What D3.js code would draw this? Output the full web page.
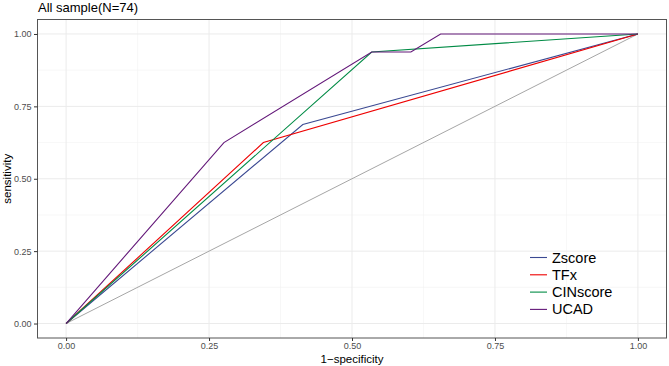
<!DOCTYPE html>
<html>
<head>
<meta charset="utf-8">
<script src="https://cdn.jsdelivr.net/npm/d3@7"></script>
<style>
  body { margin: 0; background: #fff; }
  svg text { font-family: "Liberation Sans", Arial, sans-serif; }
</style>
</head>
<body>
<script>
const width = 669;
const height = 366;

// ROC curve points
const models = ["Zscore", "TFx", "CINscore", "UCAD"];
const colors = ["#3B4992", "#EE0000", "#008B45", "#631879"];
const zscoreFpr = [0, 0.414, 1];
const zscoreTpr = [0, 0.6875, 1];
const tfxFpr = [0, 0.345, 1];
const tfxTpr = [0, 0.625, 1];
const cinFpr = [0, 0.5345, 1];
const cinTpr = [0, 0.9375, 1];
const ucadFpr = [0, 0.276, 0.5345, 0.603, 0.655, 1];
const ucadTpr = [0, 0.625, 0.9375, 0.9375, 1, 1];
const diagFpr = [0, 1];
const diagTpr = [0, 1];
const ticks = [0, 0.25, 0.5, 0.75, 1];
const minorTicks = [0.125, 0.375, 0.625, 0.875];

const panel = {left: 37.5, right: 666.5, top: 19.5, bottom: 338};

const series = [
  {fpr: zscoreFpr, tpr: zscoreTpr},
  {fpr: tfxFpr, tpr: tfxTpr},
  {fpr: cinFpr, tpr: cinTpr},
  {fpr: ucadFpr, tpr: ucadTpr}
].map((s, i) => ({name: models[i], color: colors[i], pts: s.fpr.map((f, j) => [f, s.tpr[j]])}));

const svg = d3.select('body')
              .append('svg')
              .attr('width', width)
              .attr('height', height);

let xScale = d3.scaleLinear()
               .domain([-0.05, 1.05])
               .range([panel.left, panel.right]);

let yScale = d3.scaleLinear()
               .domain([-0.05, 1.05])
               .range([panel.bottom, panel.top]);

// grid
let grid = svg.append('g');
grid.selectAll('.vminor').data(minorTicks).enter().append('line')
    .attr('x1', d => xScale(d)).attr('x2', d => xScale(d))
    .attr('y1', panel.top).attr('y2', panel.bottom)
    .attr('stroke', '#f2f2f2').attr('stroke-width', 0.6);
grid.selectAll('.hminor').data(minorTicks).enter().append('line')
    .attr('y1', d => yScale(d)).attr('y2', d => yScale(d))
    .attr('x1', panel.left).attr('x2', panel.right)
    .attr('stroke', '#f2f2f2').attr('stroke-width', 0.6);
grid.selectAll('.vmajor').data(ticks).enter().append('line')
    .attr('x1', d => xScale(d)).attr('x2', d => xScale(d))
    .attr('y1', panel.top).attr('y2', panel.bottom)
    .attr('stroke', '#ebebeb').attr('stroke-width', 1);
grid.selectAll('.hmajor').data(ticks).enter().append('line')
    .attr('y1', d => yScale(d)).attr('y2', d => yScale(d))
    .attr('x1', panel.left).attr('x2', panel.right)
    .attr('stroke', '#ebebeb').attr('stroke-width', 1);

let line = d3.line()
             .x(d => xScale(d[0]))
             .y(d => yScale(d[1]));

// diagonal reference
svg.append('path')
   .datum(diagFpr.map((f, i) => [f, diagTpr[i]]))
   .attr('d', line)
   .attr('fill', 'none')
   .attr('stroke', '#a6a6a6')
   .attr('stroke-width', 1);

svg.selectAll('.roc')
   .data(series)
   .enter()
   .append('path')
   .attr('class', 'roc')
   .attr('d', d => line(d.pts))
   .attr('fill', 'none')
   .attr('stroke', d => d.color)
   .attr('stroke-width', 1.1);

// panel border
svg.append('rect')
   .attr('x', panel.left).attr('y', panel.top)
   .attr('width', panel.right - panel.left)
   .attr('height', panel.bottom - panel.top)
   .attr('fill', 'none')
   .attr('stroke', '#555')
   .attr('stroke-width', 1);

// axes
let xAxis = d3.axisBottom(xScale).tickValues(ticks).tickFormat(d3.format('.2f')).tickSize(3).tickPadding(2);
let gx = svg.append('g')
   .attr('transform', `translate(0, ${panel.bottom})`)
   .call(xAxis);
let yAxis = d3.axisLeft(yScale).tickValues(ticks).tickFormat(d3.format('.2f')).tickSize(3.5).tickPadding(2.5);
let gy = svg.append('g')
   .attr('transform', `translate(${panel.left}, 0)`)
   .call(yAxis);
[gx, gy].forEach(g => {
  g.select('.domain').remove();
  g.selectAll('.tick line').attr('stroke', '#333');
  g.selectAll('.tick text').attr('fill', '#4d4d4d').style('font-size', '9px');
});

// labels
svg.append('text')
   .attr('x', 38).attr('y', 12)
   .style('font-size', '13px')
   .attr('fill', '#000')
   .text('All sample(N=74)');

svg.append('text')
   .attr('x', (panel.left + panel.right) / 2).attr('y', 362.5)
   .attr('text-anchor', 'middle')
   .style('font-size', '11.5px')
   .text('1\u2212specificity');

svg.append('text')
   .attr('transform', `translate(11, ${(panel.top + panel.bottom) / 2}) rotate(-90)`)
   .attr('text-anchor', 'middle')
   .style('font-size', '11.5px')
   .text('sensitivity');

// legend
let legend = svg.append('g');
let rows = legend.selectAll('g')
   .data(series)
   .enter()
   .append('g')
   .attr('transform', (d, i) => `translate(530, ${257.5 + i * 17.3})`);
rows.append('line')
    .attr('x1', 0).attr('x2', 17)
    .attr('stroke', d => d.color)
    .attr('stroke-width', 1.1);
rows.append('text')
    .attr('x', 22)
    .attr('dy', '0.35em')
    .style('font-size', '14.5px')
    .text(d => d.name);
</script>
</body>
</html>
